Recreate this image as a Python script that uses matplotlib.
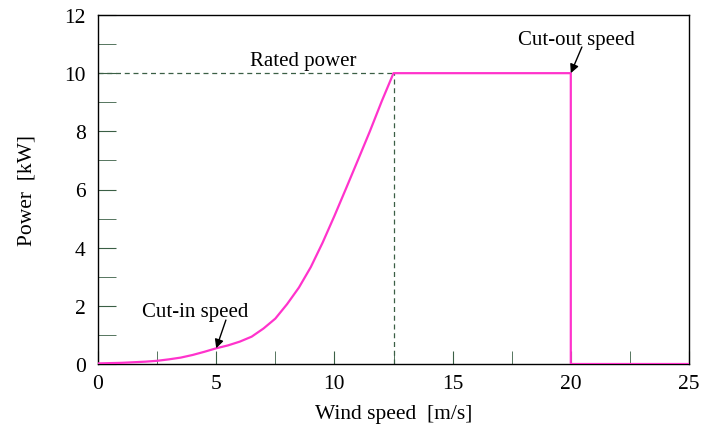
import numpy as np
import matplotlib.pyplot as plt
from matplotlib.ticker import MultipleLocator

plt.rcParams['font.family'] = ['Liberation Serif', 'DejaVu Serif']

# turbine power curve: rising part up to rated speed
rise_speed = [0, 0.5, 1, 1.5, 2, 2.5, 3, 3.5, 4, 4.5, 5, 5.5, 6, 6.5, 7,
              7.5, 8, 8.5, 9, 9.5, 10, 10.5, 11, 11.5, 12, 12.5]
rise_power = [0.02, 0.03, 0.04, 0.06, 0.08, 0.11, 0.16, 0.22, 0.31, 0.42,
              0.54, 0.64, 0.77, 0.94, 1.22, 1.56, 2.06, 2.63, 3.33, 4.17,
              5.09, 6.05, 7.02, 8.0, 9.03, 10.0]
# flat rated part, then shutdown above cut-out
tail_speed = [20, 20, 25]
tail_power = [10.0, 0, 0]

rated_speed = 12.5
rated_power = 10.0
cut_in_speed = 5
cut_in_power = 0.54
cut_out_speed = 20

wind_speed = rise_speed + tail_speed
power = rise_power + tail_power

fig = plt.figure(figsize=(7.02, 4.31), dpi=100)
ax = fig.add_axes([98/702, 1 - 365/431, 591/702, 349/431])

ax.plot(wind_speed, power, color='#ff33cc', linewidth=1.6, zorder=3,
        solid_joinstyle='round')

# rated power guides
guide = '#3a5f45'
ax.plot([0, rated_speed], [rated_power, rated_power], color=guide,
        linestyle=(0, (4, 3)), linewidth=0.9)
ax.plot([rated_speed, rated_speed], [0, rated_power], color=guide,
        linestyle=(0, (4, 3)), linewidth=0.9)

ax.set_xlim(0, 25)
ax.set_ylim(0, 12)
ax.xaxis.set_major_locator(MultipleLocator(5))
ax.xaxis.set_minor_locator(MultipleLocator(2.5))
ax.yaxis.set_major_locator(MultipleLocator(2))
ax.yaxis.set_minor_locator(MultipleLocator(1))
ax.tick_params(axis='x', which='both', direction='in', length=9.5,
               color=guide, labelsize=15.5, pad=7)
ax.tick_params(axis='y', which='both', direction='in', length=13,
               color=guide, labelsize=15.5, pad=9)
for s in ax.spines.values():
    s.set_linewidth(1.0)

ax.set_xlabel('Wind speed  [m/s]', fontsize=15.5, labelpad=8)
ax.set_ylabel('Power  [kW]', fontsize=15.5, labelpad=20)

arrow = dict(arrowstyle='-|>', color='black', lw=1.0,
             shrinkA=0, shrinkB=0, mutation_scale=13)

ax.text(8.67, 10.12, 'Rated power', fontsize=15, ha='center', va='bottom')

ax.text(20.25, 11.15, 'Cut-out speed', fontsize=15, ha='center', va='center')
ax.annotate('', xy=(cut_out_speed, rated_power), xytext=(20.47, 10.9),
            arrowprops=arrow)

ax.text(4.12, 1.82, 'Cut-in speed', fontsize=15, ha='center', va='center')
ax.annotate('', xy=(cut_in_speed, cut_in_power), xytext=(5.41, 1.51),
            arrowprops=arrow)

fig.savefig('out.png', dpi=100)
